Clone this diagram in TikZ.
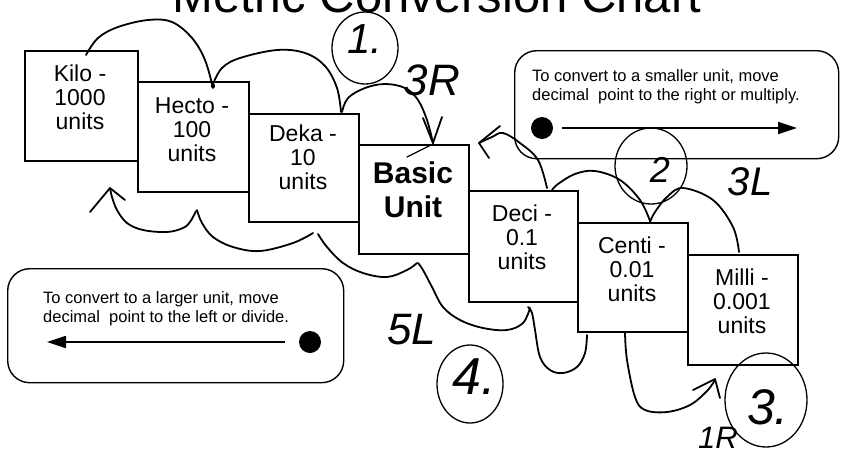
\documentclass[tikz,border=0pt]{standalone}
\usepackage{fontspec}
\setmainfont{Liberation Sans}
\usetikzlibrary{arrows.meta,shapes.geometric}
\begin{document}
\begin{tikzpicture}[x=1pt,y=-1pt,
 unitbox/.style={draw,line width=1.6pt,fill=white,minimum width=110pt,minimum height=110pt,anchor=north west,inner sep=0pt},
 unittext/.style={align=center,anchor=base,inner sep=0pt,font=\fontsize{23}{24}\selectfont},
 note/.style={draw,line width=1.4pt,rounded corners=22pt,anchor=north west,inner sep=0pt},
 notetext/.style={align=left,anchor=base west,inner sep=0pt,font=\fontsize{16.5}{18.5}\selectfont},
 blackdot/.style={circle,fill=black,minimum size=22pt,inner sep=0pt},
 notearrow/.style={line width=1.8pt,-{Triangle[length=19pt,width=12pt]}},
 ink/.style={line width=1.8pt,line cap=round,line join=round},
 hand/.style={inner sep=0pt,font=\itshape},
 ring/.style={draw,ellipse,line width=1.3pt,inner sep=0pt},
]
\useasboundingbox (0,0) rectangle (841,456);
\fill[white] (0,0) rectangle (841,456);

% title (partly cut off at the top)
\node[anchor=base,inner sep=0pt,font=\fontsize{49}{49}\selectfont] (title) at (437,12) {Metric Conversion Chart};

% unit boxes
\node[unitbox,minimum width=113pt] (kilo) at (24,50) {};
\node[unitbox,minimum width=111pt] (hecto) at (137,81) {};
\node[unitbox,minimum height=108pt] (deka) at (248,113) {};
\node[unitbox,minimum height=109pt] (basic) at (358,144) {};
\node[unitbox,minimum width=109pt,minimum height=111pt] (deci) at (468,190) {};
\node[unitbox,minimum height=109pt] (centi) at (577,222) {};
\node[unitbox] (milli) at (687,254) {};

% (anchor base = baseline of the last line)
\node[unittext] (kilot) at (80,129) {Kilo -\\1000\\units};
\node[unittext] (hectot) at (192,161) {Hecto -\\100\\units};
\node[unittext] (dekat) at (303,189) {Deka -\\10\\units};
\node[align=center,anchor=base,inner sep=0pt,font=\fontsize{30}{34}\selectfont\bfseries] (basict) at (413,217) {Basic\\Unit};
\node[unittext] (decit) at (522,269) {Deci -\\0.1\\units};
\node[unittext] (centit) at (632,301) {Centi -\\0.01\\units};
\node[unittext] (millit) at (742,333) {Milli -\\0.001\\units};

% notes
\node[note,minimum width=324pt,minimum height=108pt] (smallnote) at (514,50) {};
\node[notetext] (smallt) at (532,100) {To convert to a smaller unit, move\\decimal\ \ point to the right or multiply.};
\node[blackdot] (dotR) at (542,128) {};
\coordinate (endR) at (797,128);
\draw[notearrow,shorten <=20pt] (dotR.center) -- (endR);

\node[note,minimum width=336pt,minimum height=114pt] (largenote) at (7,268) {};
\node[notetext] (larget) at (43,322) {To convert to a larger unit, move\\decimal\ \ point to the left or divide.};
\node[blackdot] (dotL) at (310,342) {};
\coordinate (endL) at (47,342);
\draw[notearrow,shorten <=25pt] (dotL.center) -- (endL);

% step 1: Kilo -> Hecto -> Deka -> Basic (3R)
\draw[ink] plot[smooth,tension=0.6] coordinates {(86,55) (98,38) (118,27) (148,20) (172,22) (192,38) (205,60) (213,88)};
\fill (213,86) circle (2.2pt);
\draw[ink] plot[smooth,tension=0.6] coordinates {(213,84) (222,68) (240,58) (277,50) (305,53) (325,66) (337,88) (341,112)};
\draw[ink] plot[smooth,tension=0.6] coordinates {(342,112) (348,98) (365,88) (385,84) (405,88) (418,100) (427,120) (433,143)};
\draw[ink] (423,118) -- (433,143) -- (442,117);
\draw[ink,line width=1.3pt] (407,157) -- (433,144);
\node[ring,minimum width=66pt,minimum height=72pt] (ring1) at (365,48) {};
\node[hand,font=\fontsize{42}{42}\selectfont\itshape] (num1) at (365,39) {1.};
\node[hand,font=\fontsize{44}{44}\selectfont\itshape] (lab3R) at (432,80) {3R};

% step 2: Milli -> Centi -> Deci -> Basic (3L)
\draw[ink] plot[smooth,tension=0.6] coordinates {(739,252) (733,227) (713,200) (683,188) (667,197) (655,212) (650,222)};
\draw[ink] plot[smooth,tension=0.6] coordinates {(650,221) (640,200) (620,180) (595,171) (575,174) (558,184) (552,190)};
\draw[ink] plot[smooth,tension=0.6] coordinates {(547,188) (538,160) (520,143) (503,133) (492,137) (479,143)};
\draw[ink] (500,126) -- (479,143) -- (489,158);
\node[ring,minimum width=72pt,minimum height=76pt] (ring2) at (651,166) {};
\node[hand,font=\fontsize{36}{36}\selectfont\itshape] (num2) at (660,170) {2};
\node[hand,font=\fontsize{40}{40}\selectfont\itshape] (lab3L) at (750,182) {3L};

% step 3: Centi -> Milli (1R)
\draw[ink] plot[smooth,tension=0.6] coordinates {(625,333) (627,360) (635,397) (645,410) (667,412) (690,405) (707,391) (715,380)};
\draw[ink] (693,390) -- (715,379) -- (720,398);
\node[ring,minimum width=82pt,minimum height=94pt] (ring3) at (766,400) {};
\node[hand,font=\fontsize{50}{50}\selectfont\itshape] (num3) at (768,407) {3.};
\node[hand,font=\fontsize{31}{31}\selectfont\itshape] (lab1R) at (718,438) {1R};

% step 4: Centi -> Deci -> Basic -> Deka -> Hecto -> Kilo (5L)
\draw[ink] plot[smooth,tension=0.6] coordinates {(587,335) (585,353) (577,367) (563,373) (550,370) (540,357) (535,330) (532,313) (528,307)};
\draw[ink] plot[smooth,tension=0.6] coordinates {(530,308) (523,323) (507,330) (483,328) (460,320) (443,307) (432,287) (423,270) (418,263)};
\draw[ink] plot[smooth,tension=0.6] coordinates {(417,263) (407,270) (387,277) (363,273) (343,263) (327,247) (318,234)};
\draw[ink] plot[smooth,tension=0.6] coordinates {(313,233) (293,243) (260,251) (233,247) (213,237) (202,223) (197,210)};
\draw[ink] plot[smooth,tension=0.6] coordinates {(196,211) (190,222) (183,228) (167,232) (143,230) (127,223) (117,210) (112,197) (110,188)};
\draw[ink] (90,212) -- (110,188) -- (125,200);
\node[ring,minimum width=66pt,minimum height=78pt] (ring4) at (470,384) {};
\node[hand,font=\fontsize{52}{52}\selectfont\itshape] (num4) at (474,377) {4.};
\node[hand,font=\fontsize{44}{44}\selectfont\itshape] (lab5L) at (412,330) {5L};
\end{tikzpicture}
\end{document}
